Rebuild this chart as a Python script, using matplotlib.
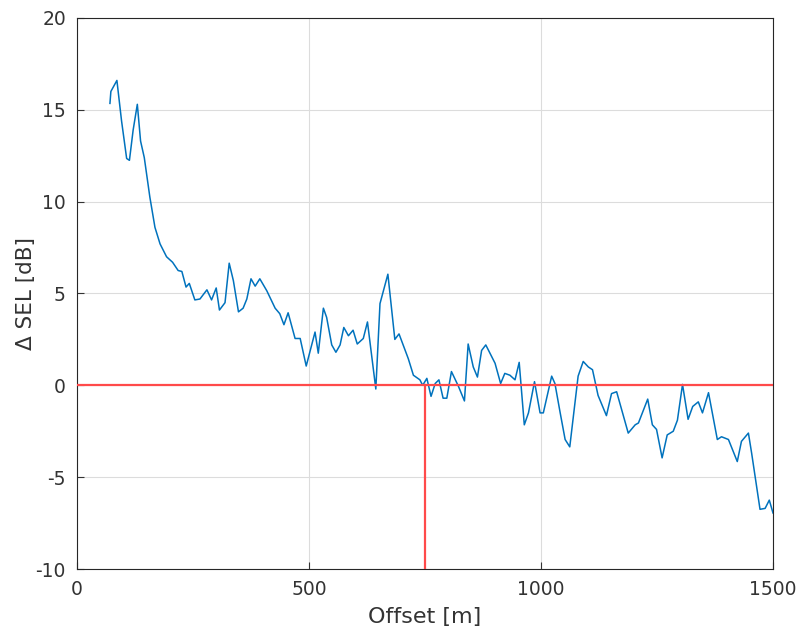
import matplotlib
matplotlib.use("Agg")
import matplotlib.pyplot as plt

plt.rcParams["axes.unicode_minus"] = False

# Traced values of the curve (offset in m, delta SEL in dB)
offset = [71, 73, 86, 96, 107, 113, 121, 130, 137, 145, 157, 168, 179, 193,
          206, 218, 226, 235, 242, 254, 265, 280, 290, 300, 307, 319, 328,
          337, 348, 358, 366, 375, 384, 394, 409, 427, 437, 446, 455, 470,
          481, 494, 513, 520, 531, 538, 549, 558, 567, 575, 585, 595, 604,
          617, 626, 644, 653, 670, 685, 694, 714, 725, 739, 745, 754, 763,
          772, 780, 789, 797, 807, 822, 835, 843, 854, 863, 872, 881, 890,
          901, 913, 922, 933, 944, 953, 964, 973, 986, 998, 1005, 1023,
          1030, 1041, 1052, 1062, 1080, 1091, 1102, 1111, 1123, 1141, 1152,
          1163, 1188, 1203, 1210, 1230, 1240, 1249, 1261, 1272, 1285, 1294,
          1305, 1317, 1327, 1339, 1348, 1361, 1380, 1389, 1404, 1423, 1432,
          1447, 1454, 1472, 1483, 1492, 1500]
delta_sel = [15.35, 16.0, 16.6, 14.4, 12.35, 12.25, 13.9, 15.3, 13.3, 12.4,
             10.25, 8.6, 7.7, 7.0, 6.7, 6.25, 6.2, 5.35, 5.55, 4.65, 4.7,
             5.2, 4.65, 5.3, 4.1, 4.5, 6.65, 5.7, 4.0, 4.2, 4.7, 5.8, 5.4,
             5.8, 5.15, 4.2, 3.9, 3.3, 3.95, 2.55, 2.55, 1.05, 2.9, 1.75,
             4.2, 3.7, 2.2, 1.8, 2.2, 3.15, 2.7, 3.0, 2.25, 2.55, 3.45, -0.2,
             4.45, 6.05, 2.5, 2.8, 1.45, 0.55, 0.3, 0.0, 0.38, -0.6, 0.1,
             0.3, -0.7, -0.7, 0.75, -0.05, -0.85, 2.25, 1.0, 0.45, 1.9, 2.2,
             1.75, 1.2, 0.1, 0.65, 0.55, 0.3, 1.25, -2.15, -1.5, 0.2, -1.5,
             -1.5, 0.5, 0.1, -1.45, -2.95, -3.35, 0.5, 1.3, 1.0, 0.85, -0.55,
             -1.65, -0.45, -0.35, -2.6, -2.15, -2.05, -0.75, -2.15, -2.4,
             -3.95, -2.7, -2.5, -1.9, 0.05, -1.85, -1.15, -0.9, -1.5, -0.4,
             -2.95, -2.8, -2.95, -4.15, -3.05, -2.6, -3.7, -6.75, -6.7,
             -6.25, -6.95]

# Reference marks
ref_offset = 750
ref_level = 0

fig = plt.figure(figsize=(8, 6.33), dpi=100)
ax = fig.add_axes([0.09625, 0.1011, 0.87, 0.8705])

ax.plot(offset, delta_sel, color="#0072BD", linewidth=1.1, zorder=3)
ax.axhline(ref_level, color="#ff4a4a", linewidth=1.6, zorder=4)
ax.plot([ref_offset, ref_offset], [-10, ref_level], color="#ff4a4a",
        linewidth=1.6, zorder=4)

ax.set_xlim(0, 1500)
ax.set_ylim(-10, 20)
ax.set_xticks([0, 500, 1000, 1500])
ax.set_yticks([-10, -5, 0, 5, 10, 15, 20])
ax.grid(True, color="#dcdcdc", linewidth=0.8)
ax.set_axisbelow(True)
ax.tick_params(direction="in", length=5, labelsize=13.5, colors="#333333",
               top=False, right=False)
ax.tick_params(axis="x", pad=8)
ax.tick_params(axis="y", pad=8)
for s in ax.spines.values():
    s.set_color("#262626")
    s.set_linewidth(0.8)

ax.set_xlabel("Offset [m]", fontsize=16, color="#333333", labelpad=6)
ax.set_ylabel("Δ SEL [dB]", fontsize=15.5, color="#333333", labelpad=0)

fig.savefig("out.png", dpi=100)
